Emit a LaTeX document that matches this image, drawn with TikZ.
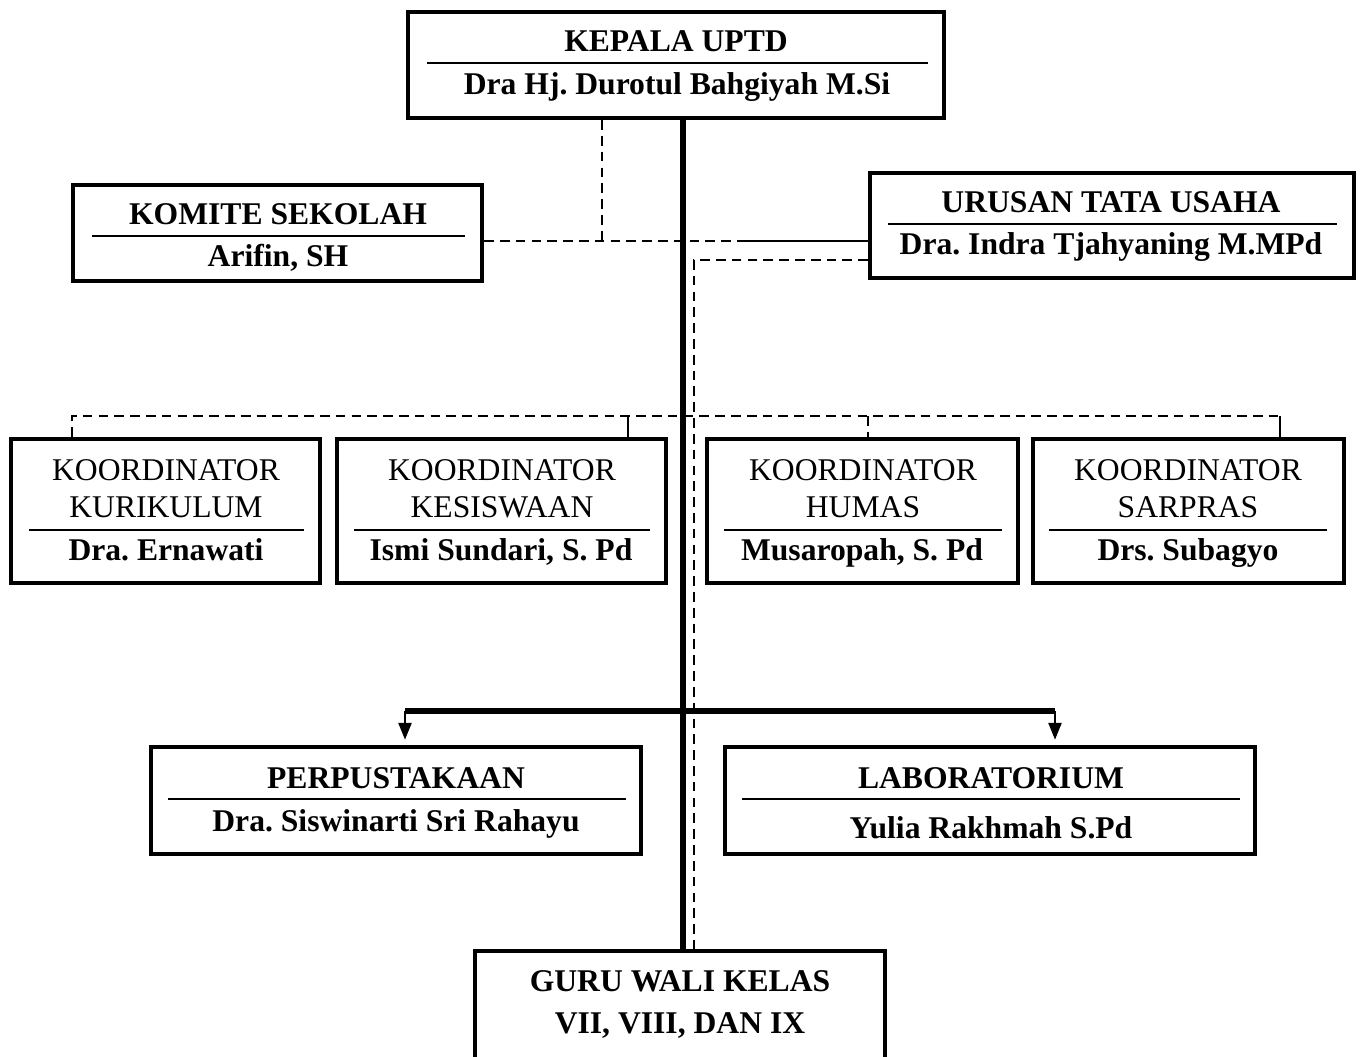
\documentclass[tikz,border=0pt]{standalone}
\usepackage{fontspec}
\setmainfont{Liberation Serif}
\usetikzlibrary{arrows.meta}
\frenchspacing

\begin{document}
\begin{tikzpicture}[
            x = 0.02cm, y = -0.02cm, % one unit is one pixel of the chart
            > = {Triangle[length=9.5pt, width=7.5pt]}, % arrow head style
            font = \fontsize{18}{22}\selectfont,
            semithick % line style
        ]

        \tikzstyle{unit}=[
            draw = black,
            line width = 2.4pt,
            inner sep = 0pt
        ]
        \tikzstyle{txt}=[anchor = base, inner sep = 0pt]
        \tikzstyle{rulel}=[line width = 1.2pt]
        \tikzstyle{trunk}=[line width = 2.9pt]
        \tikzstyle{link}=[line width = 0.9pt]
        \tikzstyle{down}=[link, ->, shorten > = 3pt] % keep arrow head off the box
        \tikzstyle{dashline}=[line width = 0.9pt, dash pattern = on 5.5pt off 3.5pt]

        \useasboundingbox (0,0) rectangle (1360,1057);

        % kepala
        \node[unit, minimum width = 10.72cm, minimum height = 2.12cm] (kepala) at (676,65) {};
        \node[txt] (kepalaT) at (676,52) {\textbf{KEPALA UPTD}};
        \draw[rulel] (427,63) -- (928,63);
        \node[txt] (kepalaN) at (677,95) {\textbf{Dra Hj. Durotul Bahgiyah M.Si}};

        % komite
        \node[unit, minimum width = 8.18cm, minimum height = 1.92cm] (komite) at (277.5,233) {};
        \node[txt] (komiteT) at (278,225) {\textbf{KOMITE SEKOLAH}};
        \draw[rulel] (92,236) -- (465,236);
        \node[txt] (komiteN) at (278,267) {\textbf{Arifin, SH}};

        % tata usaha
        \node[unit, minimum width = 9.68cm, minimum height = 2.1cm] (tu) at (1112,225.5) {};
        \node[txt] (tuT) at (1111,213) {\textbf{URUSAN TATA USAHA}};
        \draw[rulel] (888,224) -- (1337,224);
        \node[txt] (tuN) at (1111,255) {\textbf{Dra. Indra Tjahyaning M.MPd}};

        % koordinator
        \node[unit, minimum width = 6.18cm, minimum height = 2.88cm] (kur) at (165.5,511) {};
        \node[txt] (kurA) at (166,481) {KOORDINATOR};
        \node[txt] (kurB) at (166,518) {KURIKULUM};
        \draw[rulel] (29,530) -- (304,530);
        \node[txt] (kurN) at (166,561) {\textbf{Dra. Ernawati}};

        \node[unit, minimum width = 6.58cm, minimum height = 2.88cm] (kes) at (501.5,511) {};
        \node[txt] (kesA) at (502,481) {KOORDINATOR};
        \node[txt] (kesB) at (502,518) {KESISWAAN};
        \draw[rulel] (354,530) -- (650,530);
        \node[txt] (kesN) at (501,561) {\textbf{Ismi Sundari, S. Pd}};

        \node[unit, minimum width = 6.22cm, minimum height = 2.88cm] (hum) at (862.5,511) {};
        \node[txt] (humA) at (863,481) {KOORDINATOR};
        \node[txt] (humB) at (863,518) {HUMAS};
        \draw[rulel] (724,530) -- (1002,530);
        \node[txt] (humN) at (862,561) {\textbf{Musaropah, S. Pd}};

        \node[unit, minimum width = 6.22cm, minimum height = 2.88cm] (sar) at (1188.5,511) {};
        \node[txt] (sarA) at (1188,481) {KOORDINATOR};
        \node[txt] (sarB) at (1188,518) {SARPRAS};
        \draw[rulel] (1049,530) -- (1327,530);
        \node[txt] (sarN) at (1188,561) {\textbf{Drs. Subagyo}};

        % perpustakaan, laboratorium
        \node[unit, minimum width = 9.8cm, minimum height = 2.14cm] (perpus) at (396,800.5) {};
        \node[txt] (perpusT) at (396,788) {\textbf{PERPUSTAKAAN}};
        \draw[rulel] (168,799) -- (626,799);
        \node[txt] (perpusN) at (396,831) {\textbf{Dra. Siswinarti Sri Rahayu}};

        \node[unit, minimum width = 10.6cm, minimum height = 2.14cm] (lab) at (990,800.5) {};
        \node[txt] (labT) at (991,788) {\textbf{LABORATORIUM}};
        \draw[rulel] (742,799) -- (1240,799);
        \node[txt] (labN) at (991,838) {\textbf{Yulia Rakhmah S.Pd}};

        % guru
        \node[unit, minimum width = 8.2cm, minimum height = 2.56cm] (guru) at (680,1015) {};
        \node[txt] (guruA) at (680,991) {\textbf{GURU WALI KELAS}};
        \node[txt] (guruB) at (680,1033) {\textbf{VII, VIII, DAN IX}};

        % junctions
        \coordinate (tk) at (683,0);
        \coordinate (jk) at (602,241);
        \coordinate (jm) at (745,241);
        \coordinate (jg) at (694,260);
        \coordinate (bl) at (72,416);
        \coordinate (br) at (1280,416);
        \coordinate (bk) at (628,416);
        \coordinate (bh) at (868,416);
        \coordinate (pl) at (405,711);
        \coordinate (pr) at (1055,711);

        \draw[trunk] (kepala.south -| tk) -- (guru.north -| tk);

        \draw[dashline] (kepala.south -| jk) -- (jk);
        \draw[dashline] (komite.east |- jk) -- (jm);
        \draw[link] (jm) -- (tu.west |- jm);
        \draw[dashline] (tu.west |- jg) -- (jg) -- (guru.north -| jg);

        \draw[dashline] (kur.north -| bl) -- (bl) -- (br);
        \draw[link] (br) -- (sar.north -| br);
        \draw[link] (bk) -- (kes.north -| bk);
        \draw[dashline] (bh) -- (hum.north -| bh);

        \draw[trunk] (pl) -- (pr);
        \draw[down] (pl) -- (perpus.north -| pl);
        \draw[down] (pr) -- (lab.north -| pr);

  \end{tikzpicture}
\end{document}
